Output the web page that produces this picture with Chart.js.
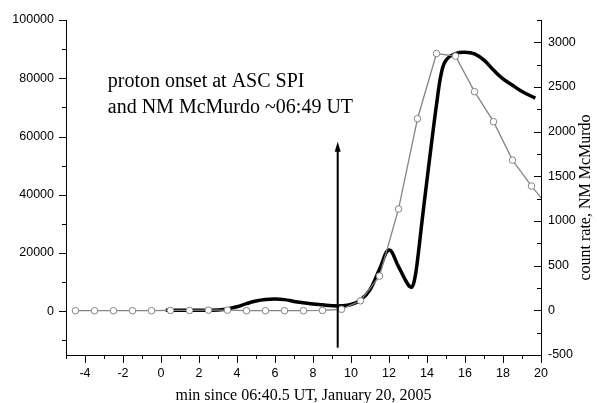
<!DOCTYPE html>
<html><head><meta charset="utf-8">
<script src="https://cdn.jsdelivr.net/npm/chart.js@4/dist/chart.umd.min.js"></script>
<style>html,body{margin:0;padding:0;background:#fff;}#wrap{width:597px;height:403px;position:relative;}</style>
</head><body><div id="wrap"><canvas id="c" width="597" height="403"></canvas></div>
<script>
// ASC SPI counts (left axis)
const spiTime = [-4.5,-3.5,-2.5,-1.5,-0.5,0.5,1.5,2.5,3.5,4.5,5.5,6.5,7.5,8.5,9.5,10.5,11.5,12.5,13.5,14.5,15.5,16.5,17.5,18.5,19.5,20.5];
const spiCounts = [200,200,200,200,200,300,300,400,400,200,200,200,200,300,700,3600,12100,35100,66100,88500,87600,75400,65100,51900,43000,35000];
// NM McMurdo count rate (right axis)
const nmTime = [0.25,1,2,3,3.5,4,4.5,5,5.5,6,6.5,7,7.5,8,8.5,9,9.5,10,10.5,11,11.5,12,12.5,13,13.2,13.35,13.5,13.75,14,14.25,14.5,14.75,15,15.5,16,16.5,17,17.5,18,18.5,19,19.7];
const nmRate = [0,0,0,5,15,40,75,105,122,127,120,100,85,72,62,52,50,65,115,230,460,675,490,290,260,350,560,1020,1460,1890,2300,2650,2800,2875,2890,2870,2800,2690,2590,2520,2450,2375];
// tick labels
const xTicks = [-4,-2,0,2,4,6,8,10,12,14,16,18,20];
const leftTicks = [0,20000,40000,60000,80000,100000];
const rightTicks = [-500,0,500,1000,1500,2000,2500,3000];
// annotation
const noteLines = ["proton onset at ASC SPI", "and NM McMurdo ~06:49 UT"];
const arrowX = 9.3;
const arrowY = [-12500, 58200];
const xTitle = "min since 06:40.5 UT, January 20, 2005";
const y1Title = "count rate, NM McMurdo";

const tickFont = {family: '"Liberation Sans", Arial, sans-serif', size: 12.5};
const SERIF = '"Liberation Serif", "Times New Roman", serif';

const extras = {
  id: 'extras',
  afterDatasetsDraw(chart) {
    const {ctx, chartArea: a, scales: {x, y, y1}} = chart;
    ctx.save();
    ctx.strokeStyle = '#000';
    ctx.fillStyle = '#000';
    ctx.lineWidth = 1;
    const L = (x1, y1_, x2, y2) => { ctx.beginPath(); ctx.moveTo(x1, y1_); ctx.lineTo(x2, y2); ctx.stroke(); };
    for (let v = -5; v <= 20; v += 1) {
      const px = Math.round(x.getPixelForValue(v)) + 0.5;
      const len = xTicks.includes(v) ? 8 : 4;
      L(px, a.bottom, px, a.bottom + len);
    }
    for (let v = -10000; v <= 100000; v += 10000) {
      const py = Math.round(y.getPixelForValue(v)) + 0.5;
      const len = leftTicks.includes(v) ? 7 : 4;
      L(a.left, py, a.left - len, py);
    }
    for (let v = -500; v <= 3250; v += 250) {
      const py = Math.round(y1.getPixelForValue(v)) + 0.5;
      const len = rightTicks.includes(v) ? 7 : 4;
      L(a.right, py, a.right - len, py);
    }
    const ax = x.getPixelForValue(arrowX);
    const yb = y.getPixelForValue(arrowY[0]);
    const yt = y.getPixelForValue(arrowY[1]);
    ctx.lineWidth = 2;
    L(ax, yb, ax, yt + 8);
    ctx.beginPath();
    ctx.moveTo(ax, yt);
    ctx.lineTo(ax - 3, yt + 10);
    ctx.lineTo(ax + 3, yt + 10);
    ctx.closePath();
    ctx.fill();
    ctx.font = '20px ' + SERIF;
    ctx.textAlign = 'left';
    ctx.textBaseline = 'alphabetic';
    ctx.fillText(noteLines[0], x.getPixelForValue(-2.8), y.getPixelForValue(77100));
    ctx.fillText(noteLines[1], x.getPixelForValue(-2.8), y.getPixelForValue(68000));
    ctx.font = '16px ' + SERIF;
    ctx.textAlign = 'center';
    ctx.fillText(xTitle, (a.left + a.right) / 2, 400);
    ctx.translate(590, 197.5);
    ctx.rotate(-Math.PI / 2);
    ctx.fillText(y1Title, 0, 0);
    ctx.restore();
  }
};

const setTicks = arr => s => { s.ticks = arr.map(v => ({value: v})); };
const gridOpt = (len, draw) => ({display: true, drawOnChartArea: false, drawTicks: draw, tickLength: len, tickColor: 'rgba(0,0,0,0)'});
const borderOpt = {display: true, color: '#000', width: 1};

new Chart(document.getElementById('c'), {
  type: 'line',
  data: {
    datasets: [
      {
        label: 'ASC SPI',
        data: spiTime.map((t, i) => ({x: t, y: spiCounts[i]})),
        yAxisID: 'y',
        borderColor: '#858585',
        borderWidth: 1.3,
        pointRadius: 3.3,
        pointBackgroundColor: '#fff',
        pointBorderColor: '#858585',
        pointBorderWidth: 1,
        tension: 0,
        order: 0
      },
      {
        label: 'NM McMurdo',
        data: nmTime.map((t, i) => ({x: t, y: nmRate[i]})),
        yAxisID: 'y1',
        borderColor: '#000',
        borderWidth: 3.5,
        pointRadius: 0,
        tension: 0.4,
        order: 1
      }
    ]
  },
  options: {
    responsive: false,
    animation: false,
    devicePixelRatio: 1,
    layout: {padding: {top: 20, left: 0, right: 0, bottom: 0}},
    plugins: {legend: {display: false}, tooltip: {enabled: false}},
    scales: {
      x: {
        type: 'linear', position: 'bottom', min: -5, max: 20,
        afterBuildTicks: setTicks(xTicks),
        afterFit: s => { s.height = 48; },
        ticks: {font: tickFont, color: '#000', padding: 3, maxRotation: 0, autoSkip: false, callback: v => String(v)},
        grid: gridOpt(8, true), border: borderOpt
      },
      y: {
        type: 'linear', position: 'left', min: -15000, max: 100000,
        afterBuildTicks: setTicks(leftTicks),
        afterFit: s => { s.width = 66; },
        ticks: {font: tickFont, color: '#000', padding: 5, autoSkip: false, callback: v => String(v)},
        grid: gridOpt(7, true), border: borderOpt
      },
      y1: {
        type: 'linear', position: 'right', min: -500, max: 3250,
        afterBuildTicks: setTicks(rightTicks),
        afterFit: s => { s.width = 56; },
        ticks: {font: tickFont, color: '#000', padding: 7, autoSkip: false, callback: v => String(v)},
        grid: gridOpt(0, false), border: borderOpt
      }
    }
  },
  plugins: [extras]
});
</script></body></html>
